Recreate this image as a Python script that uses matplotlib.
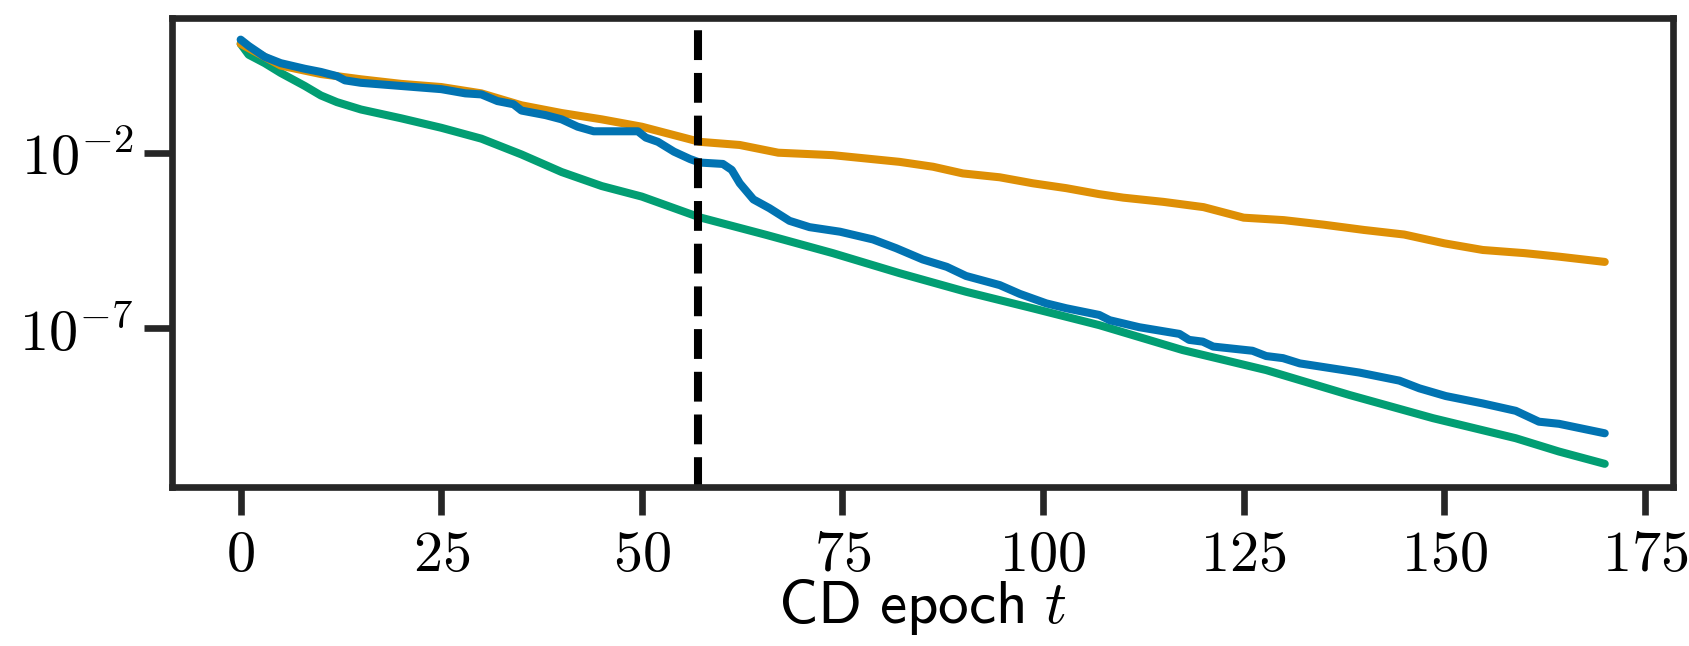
import numpy as np
import matplotlib
matplotlib.use("Agg")
import matplotlib.pyplot as plt

# ---- data (log10 of the plotted quantity) ----
orange_t = [0, 5, 10, 15, 20, 25, 30, 35, 40, 45, 50, 57.2, 62.2, 67, 73.8, 82.1,
            86.3, 90, 94.6, 98.7, 102.9, 107, 110, 115, 120, 125, 130, 135, 140,
            145, 150, 154.8, 160, 164.3, 170]
orange_log10 = [1.10, 0.48, 0.24, 0.09, -0.04, -0.13, -0.31, -0.65, -0.87, -1.05,
                -1.26, -1.69, -1.78, -2.00, -2.07, -2.26, -2.40, -2.59, -2.70,
                -2.87, -3.01, -3.18, -3.28, -3.40, -3.55, -3.85, -3.92, -4.05,
                -4.20, -4.33, -4.58, -4.77, -4.86, -4.96, -5.11]

blue_t = [0, 1, 3, 5, 8, 10, 12, 13, 15, 20, 25, 28, 30, 32, 34, 35, 38, 40, 42,
          44, 49.5, 50.5, 52, 54, 56, 57.2, 60.1, 61.2, 62.2, 63.9, 65.9, 68.4,
          70.9, 74.7, 78.8, 81.7, 85.0, 88.0, 90.4, 94.6, 97.1, 100.4, 102.9,
          107.0, 108.3, 112, 117, 118.2, 119.9, 121.2, 126.1, 127.8, 129.9, 132,
          139.4, 144.4, 146.9, 150.2, 154.8, 158.9, 161.8, 164.3, 170]
blue_log10 = [1.22, 1.04, 0.73, 0.55, 0.39, 0.30, 0.18, 0.06, -0.01, -0.10, -0.19,
              -0.31, -0.34, -0.53, -0.62, -0.80, -0.93, -1.05, -1.26, -1.39, -1.39,
              -1.57, -1.69, -1.97, -2.18, -2.28, -2.32, -2.49, -2.87, -3.33, -3.58,
              -3.94, -4.12, -4.25, -4.47, -4.72, -5.04, -5.25, -5.51, -5.77, -6.02,
              -6.29, -6.43, -6.62, -6.77, -6.97, -7.16, -7.33, -7.38, -7.52, -7.64,
              -7.79, -7.85, -8.00, -8.26, -8.49, -8.71, -8.93, -9.14, -9.35, -9.66,
              -9.72, -9.99]

green_t = [0, 1, 3, 5, 8, 10, 12, 15, 20, 25, 30, 35, 40, 45, 50, 57.2, 65.5, 73.8,
           82.1, 90.4, 98.7, 107, 117.4, 127.8, 138.2, 148.6, 158.9, 164.3, 170]
green_log10 = [1.10, 0.79, 0.55, 0.27, -0.10, -0.37, -0.56, -0.77, -1.02, -1.29,
               -1.60, -2.05, -2.55, -2.95, -3.25, -3.84, -4.34, -4.86, -5.43,
               -5.96, -6.43, -6.91, -7.62, -8.19, -8.90, -9.56, -10.13, -10.51,
               -10.86]

switch_epoch = 57
x_ticks = [0, 25, 50, 75, 100, 125, 150, 175]
y_ticks = [1e-2, 1e-7]
y_tick_labels = [r"$10^{-2}$", r"$10^{-7}$"]

# ---- style ----
plt.rcParams["mathtext.fontset"] = "cm"
plt.rcParams["axes.edgecolor"] = "#262626"

fig = plt.figure(figsize=(16.89, 6.46), dpi=100)
ax = fig.add_axes([0.1021, 0.2461, 0.8884, 0.7268])

lw = 5.8
ax.plot(green_t, 10 ** np.array(green_log10), color="#029e73", lw=lw,
        solid_capstyle="round")
ax.plot(orange_t, 10 ** np.array(orange_log10), color="#de8f05", lw=lw,
        solid_capstyle="round")
ax.plot(blue_t, 10 ** np.array(blue_log10), color="#0173b2", lw=lw,
        solid_capstyle="round")
ax.axvline(switch_epoch, color="black", lw=5.8, ls="--")

ax.set_yscale("log")
ax.set_xlim(-8.5, 178.5)
ax.set_ylim(10 ** -11.52, 10 ** 1.85)

ax.set_xticks(x_ticks)
ax.set_xticklabels([rf"${v}$" for v in x_ticks])
ax.set_yticks(y_ticks)
ax.set_yticklabels(y_tick_labels)
ax.yaxis.set_minor_locator(matplotlib.ticker.NullLocator())

for s in ax.spines.values():
    s.set_linewidth(4.8)
    s.set_color("#262626")
ax.tick_params(axis="both", which="major", length=20, width=4.8,
               color="#262626", labelsize=42, pad=8, direction="out")

ax.set_xlabel(r"$\mathsf{CD\ epoch}\ t$", fontsize=44, labelpad=-4)

fig.savefig("out.png", dpi=100)
